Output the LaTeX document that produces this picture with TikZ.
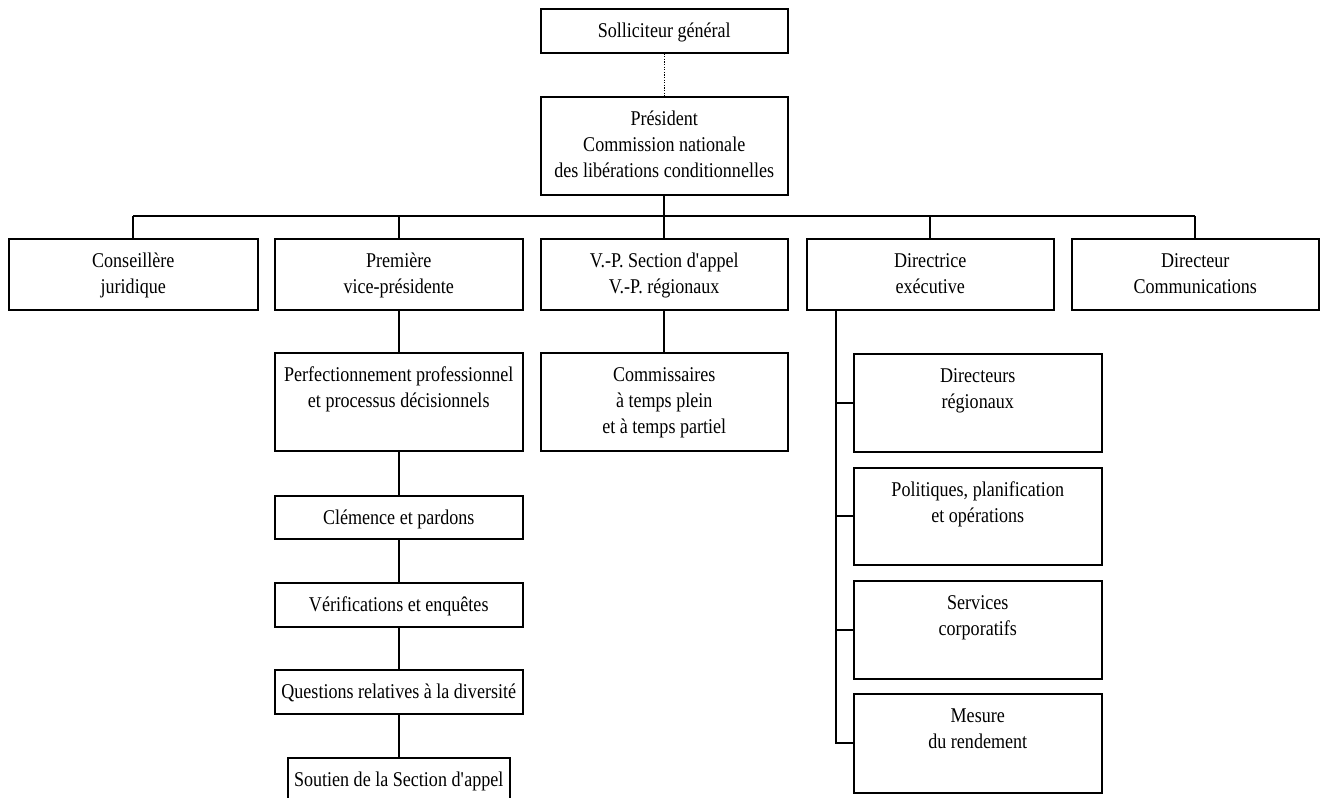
\documentclass[tikz,border=0pt]{standalone}
\usepackage{fontspec}
\setmainfont{Liberation Serif}[FakeStretch=0.86]
\tikzset{
  orgframe/.style={draw=black, line width=1.5pt, rectangle, inner sep=0pt, fill=white},
  orgtext/.style={align=center, inner sep=0pt, font=\fontsize{21}{26}\selectfont},
  link/.style={draw=black, line width=1.6pt},
  dotlink/.style={draw=black, line width=1.2pt, dash pattern=on 1.3pt off 1.3pt},
}
% name, x, y, w, h, baseline offset of last line, text
\newcommand\orgbox[7]{%
  \node[orgframe, minimum width=#4pt, minimum height=#5pt, anchor=north west] (#1) at (#2,#3) {};
  \node[orgtext, anchor=base, yshift=-#6pt] (#1-t) at (#1.north) {#7};
}
\begin{document}
\begin{tikzpicture}[x=1pt,y=-1pt]
\useasboundingbox (0,0) rectangle (1326,798);
\clip (0,0) rectangle (1326,798);
\fill[white] (0,0) rectangle (1326,798);

% top
\orgbox{sg}{540}{8}{247}{44}{29}{Solliciteur général}
\orgbox{pres}{540}{96}{247}{98}{81}{Président\\Commission nationale\\des libérations conditionnelles}

% row 2
\orgbox{cons}{8}{238}{249}{71}{55}{Conseillère\\juridique}
\orgbox{pvp}{274}{238}{248}{71}{55}{Première\\vice-présidente}
\orgbox{vp}{540}{238}{247}{71}{55}{V.-P. Section d\textquotesingle appel\\V.-P. régionaux}
\orgbox{dex}{806}{238}{247}{71}{55}{Directrice\\exécutive}
\orgbox{dcom}{1071}{238}{247}{71}{55}{Directeur\\Communications}

% left column
\orgbox{perf}{274}{352}{248}{98}{55}{Perfectionnement professionnel\\et processus décisionnels}
\orgbox{clem}{274}{495}{248}{43}{29}{Clémence et pardons}
\orgbox{verif}{274}{582}{248}{44}{29}{Vérifications et enquêtes}
\orgbox{quest}{274}{669}{248}{44}{29}{Questions relatives à la diversité}
\orgbox{sout}{287}{757}{222}{60}{29}{Soutien de la Section d\textquotesingle appel}

% middle column
\orgbox{comm}{540}{352}{247}{98}{81}{Commissaires\\à temps plein\\et à temps partiel}

% right column
\orgbox{dreg}{853}{353}{248}{98}{55}{Directeurs\\régionaux}
\orgbox{pol}{853}{467}{248}{97}{55}{Politiques, planification\\et opérations}
\orgbox{serv}{853}{580}{248}{98}{55}{Services\\corporatifs}
\orgbox{mes}{853}{693}{248}{99}{55}{Mesure\\du rendement}

% connectors
\coordinate (bus) at (0,216);
\coordinate (trunk) at (836,0);

\draw[dotlink] (sg.south) -- (pres.north);
\draw[link] (pres.south) -- (pres.south |- bus);
\draw[link] (cons.north |- bus) -- (dcom.north |- bus);
\foreach \b in {cons,pvp,vp,dex,dcom}{
  \draw[link] (\b.north |- bus) -- (\b.north);
}
\draw[link] (pvp.south) -- (perf.north);
\draw[link] (perf.south) -- (clem.north);
\draw[link] (clem.south) -- (verif.north);
\draw[link] (verif.south) -- (quest.north);
\draw[link] (quest.south) -- (sout.north);
\draw[link] (vp.south) -- (comm.north);

\draw[link] (trunk |- dex.south) -- (trunk |- mes.west) -- (mes.west);
\foreach \b in {dreg,pol,serv}{
  \draw[link] (trunk |- \b.west) -- (\b.west);
}
\end{tikzpicture}
\end{document}
